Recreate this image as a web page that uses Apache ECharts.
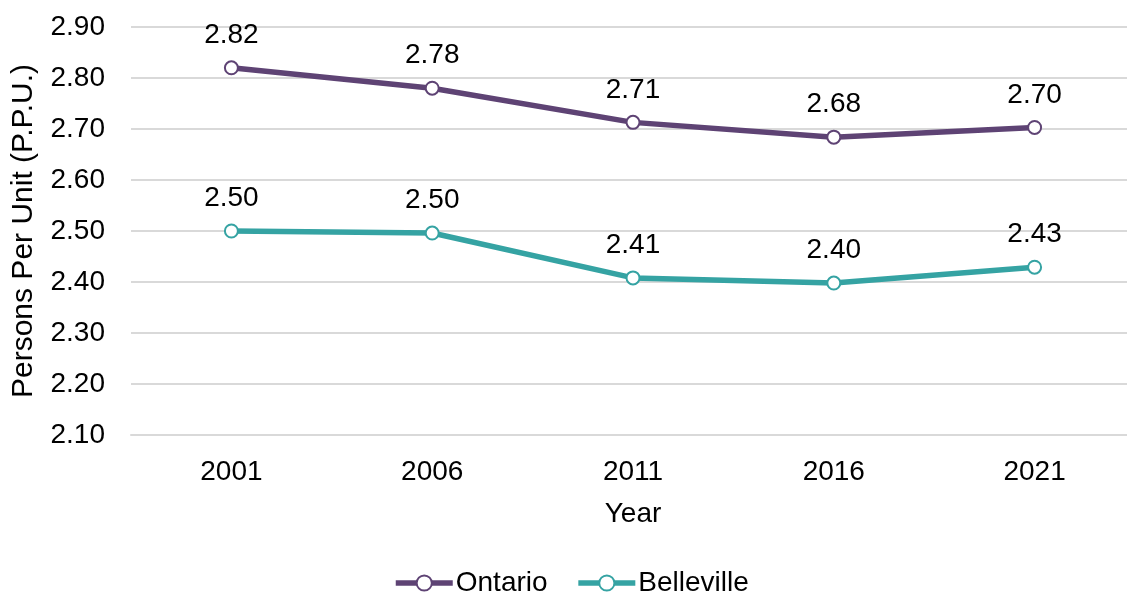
<!DOCTYPE html>
<html>
<head>
    <meta charset="utf-8">
    <script src="https://cdn.jsdelivr.net/npm/echarts@6/dist/echarts.min.js"></script>
    <style>
        html, body { margin: 0; padding: 0; background: #ffffff; overflow: hidden; }
        #chart { width: 1135px; height: 597px; }
    </style>
</head>
<body>
    <div id="chart"></div>
    <script>
        // data
        var years = ['2001', '2006', '2011', '2016', '2021'];
        var ontario = [2.82, 2.78, 2.713, 2.684, 2.703];
        var belleville = [2.50, 2.496, 2.408, 2.398, 2.429];

        var font = 'Liberation Sans, Arial, sans-serif';
        var chart = echarts.init(document.getElementById('chart'));

        function lineSeries(name, data, color) {
            return {
                name: name,
                type: 'line',
                data: data,
                symbol: 'circle',
                symbolSize: 13,
                showAllSymbol: true,
                lineStyle: { color: color, width: 5.5 },
                itemStyle: { color: '#ffffff', borderColor: color, borderWidth: 2 },
                label: {
                    show: true,
                    position: 'top',
                    distance: 11,
                    fontFamily: font,
                    fontSize: 28,
                    color: '#000000',
                    formatter: function (p) { return p.value.toFixed(2); }
                },
                emphasis: { disabled: true },
                animation: false
            };
        }

        var option = {
            animation: false,
            grid: { left: 131, right: 0, top: 27, bottom: 162 },
            legend: {
                bottom: 0,
                left: 393,
                padding: 0,
                itemWidth: 57,
                itemHeight: 19,
                itemGap: 28,
                lineStyle: { width: 5.5 },
                textStyle: { fontFamily: font, fontSize: 28, color: '#000000', padding: [0, 0, 0, -2] },
                data: ['Ontario', 'Belleville']
            },
            xAxis: {
                type: 'category',
                data: years,
                boundaryGap: true,
                name: 'Year',
                nameLocation: 'middle',
                nameGap: 65,
                nameTextStyle: { fontFamily: font, fontSize: 28, color: '#000000' },
                axisLine: { show: true, lineStyle: { color: '#d9d9d9', width: 2 } },
                axisTick: { show: false },
                axisLabel: { fontFamily: font, fontSize: 28, color: '#000000', margin: 23 }
            },
            yAxis: {
                type: 'value',
                min: 2.1,
                max: 2.9,
                interval: 0.1,
                name: 'Persons Per Unit (P.P.U.)',
                nameLocation: 'middle',
                nameGap: 92,
                nameTextStyle: { fontFamily: font, fontSize: 30, color: '#000000' },
                axisLine: { show: false },
                axisTick: { show: false },
                splitLine: { lineStyle: { color: '#d9d9d9', width: 2 } },
                axisLabel: {
                    fontFamily: font, fontSize: 28, color: '#000000', margin: 26,
                    formatter: function (v) { return v.toFixed(2); }
                }
            },
            series: [
                lineSeries('Ontario', ontario, '#5e4374'),
                lineSeries('Belleville', belleville, '#35a3a3')
            ]
        };
        chart.setOption(option);
    </script>
</body>
</html>
